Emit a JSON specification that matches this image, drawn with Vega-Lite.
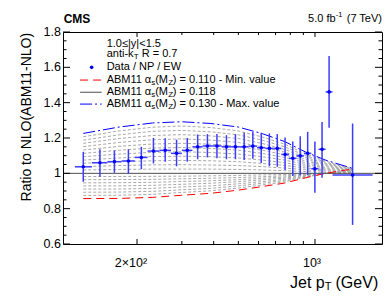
{
"$schema": "https://vega.github.io/schema/vega-lite/v6.json",
"width": 319, "height": 212,
"autosize": "none",
"padding": {"left": 63, "top": 32, "right": 8, "bottom": 58},
"background": "white",
"config": {
  "font": "Liberation Sans",
  "view": {"stroke": "black", "strokeWidth": 1},
  "axis": {"disable": true},
  "text": {"color": "black"}
},
"datasets": {
 "curves": [
  {"pt":123,"a110":0.857,"a111":0.875,"a112":0.893,"a113":0.911,"a114":0.929,"a115":0.946,"a116":0.964,"a117":0.982,"a119":1.019,"a120":1.038,"a121":1.057,"a122":1.075,"a123":1.094,"a124":1.113,"a125":1.132,"a126":1.151,"a127":1.170,"a128":1.188,"a129":1.207,"a130":1.226},
  {"pt":170,"a110":0.858,"a111":0.876,"a112":0.894,"a113":0.911,"a114":0.929,"a115":0.947,"a116":0.965,"a117":0.982,"a119":1.022,"a120":1.044,"a121":1.066,"a122":1.087,"a123":1.109,"a124":1.131,"a125":1.153,"a126":1.175,"a127":1.197,"a128":1.218,"a129":1.240,"a130":1.262},
  {"pt":230,"a110":0.864,"a111":0.881,"a112":0.898,"a113":0.915,"a114":0.932,"a115":0.949,"a116":0.966,"a117":0.983,"a119":1.024,"a120":1.048,"a121":1.071,"a122":1.095,"a123":1.119,"a124":1.143,"a125":1.166,"a126":1.190,"a127":1.214,"a128":1.238,"a129":1.261,"a130":1.285},
  {"pt":300,"a110":0.876,"a111":0.892,"a112":0.907,"a113":0.923,"a114":0.938,"a115":0.954,"a116":0.969,"a117":0.984,"a119":1.024,"a120":1.049,"a121":1.073,"a122":1.097,"a123":1.122,"a124":1.146,"a125":1.170,"a126":1.195,"a127":1.219,"a128":1.243,"a129":1.268,"a130":1.292},
  {"pt":390,"a110":0.887,"a111":0.901,"a112":0.915,"a113":0.929,"a114":0.944,"a115":0.958,"a116":0.972,"a117":0.986,"a119":1.024,"a120":1.047,"a121":1.071,"a122":1.094,"a123":1.118,"a124":1.141,"a125":1.165,"a126":1.188,"a127":1.212,"a128":1.235,"a129":1.259,"a130":1.282},
  {"pt":500,"a110":0.905,"a111":0.917,"a112":0.929,"a113":0.941,"a114":0.953,"a115":0.964,"a116":0.976,"a117":0.988,"a119":1.022,"a120":1.044,"a121":1.066,"a122":1.087,"a123":1.109,"a124":1.131,"a125":1.153,"a126":1.175,"a127":1.197,"a128":1.218,"a129":1.240,"a130":1.262},
  {"pt":620,"a110":0.925,"a111":0.934,"a112":0.944,"a113":0.953,"a114":0.963,"a115":0.972,"a116":0.981,"a117":0.991,"a119":1.019,"a120":1.038,"a121":1.056,"a122":1.075,"a123":1.094,"a124":1.113,"a125":1.131,"a126":1.150,"a127":1.169,"a128":1.188,"a129":1.206,"a130":1.225},
  {"pt":760,"a110":0.945,"a111":0.952,"a112":0.959,"a113":0.966,"a114":0.973,"a115":0.979,"a116":0.986,"a117":0.993,"a119":1.015,"a120":1.030,"a121":1.045,"a122":1.060,"a123":1.075,"a124":1.090,"a125":1.105,"a126":1.120,"a127":1.135,"a128":1.150,"a129":1.165,"a130":1.180},
  {"pt":920,"a110":0.975,"a111":0.978,"a112":0.981,"a113":0.984,"a114":0.988,"a115":0.991,"a116":0.994,"a117":0.997,"a119":1.010,"a120":1.020,"a121":1.030,"a122":1.040,"a123":1.050,"a124":1.060,"a125":1.070,"a126":1.080,"a127":1.090,"a128":1.100,"a129":1.110,"a130":1.120},
  {"pt":1100,"a110":1.0,"a111":1.0,"a112":1.0,"a113":1.0,"a114":1.0,"a115":1.0,"a116":1.0,"a117":1.0,"a119":1.006,"a120":1.013,"a121":1.019,"a122":1.025,"a123":1.031,"a124":1.038,"a125":1.044,"a126":1.050,"a127":1.056,"a128":1.063,"a129":1.069,"a130":1.075},
  {"pt":1405,"a110":1.025,"a111":1.022,"a112":1.019,"a113":1.016,"a114":1.013,"a115":1.009,"a116":1.006,"a117":1.003,"a119":1.002,"a120":1.005,"a121":1.007,"a122":1.009,"a123":1.012,"a124":1.014,"a125":1.016,"a126":1.019,"a127":1.021,"a128":1.023,"a129":1.026,"a130":1.028}
 ],
 "pts": [
  {"pt":123,"lo":114,"hi":133,"r":1.037,"rlo":0.952,"rhi":1.122},
  {"pt":143,"lo":133,"hi":153,"r":1.06,"rlo":0.98,"rhi":1.136},
  {"pt":163,"lo":153,"hi":174,"r":1.066,"rlo":1.003,"rhi":1.129},
  {"pt":185,"lo":174,"hi":196,"r":1.07,"rlo":0.998,"rhi":1.136},
  {"pt":208,"lo":196,"hi":220,"r":1.09,"rlo":1.024,"rhi":1.15},
  {"pt":232,"lo":220,"hi":245,"r":1.126,"rlo":1.056,"rhi":1.2},
  {"pt":258,"lo":245,"hi":272,"r":1.13,"rlo":1.066,"rhi":1.198},
  {"pt":286,"lo":272,"hi":300,"r":1.113,"rlo":1.04,"rhi":1.19},
  {"pt":315,"lo":300,"hi":330,"r":1.13,"rlo":1.066,"rhi":1.2},
  {"pt":346,"lo":330,"hi":362,"r":1.15,"rlo":1.08,"rhi":1.22},
  {"pt":378,"lo":362,"hi":395,"r":1.155,"rlo":1.09,"rhi":1.222},
  {"pt":412,"lo":395,"hi":430,"r":1.155,"rlo":1.085,"rhi":1.222},
  {"pt":449,"lo":430,"hi":468,"r":1.15,"rlo":1.08,"rhi":1.216},
  {"pt":487,"lo":468,"hi":507,"r":1.15,"rlo":1.08,"rhi":1.222},
  {"pt":527,"lo":507,"hi":548,"r":1.15,"rlo":1.075,"rhi":1.23},
  {"pt":570,"lo":548,"hi":592,"r":1.154,"rlo":1.082,"rhi":1.236},
  {"pt":615,"lo":592,"hi":638,"r":1.145,"rlo":1.058,"rhi":1.23},
  {"pt":662,"lo":638,"hi":686,"r":1.141,"rlo":1.041,"rhi":1.226},
  {"pt":711,"lo":686,"hi":737,"r":1.141,"rlo":1.037,"rhi":1.222},
  {"pt":763,"lo":737,"hi":790,"r":1.107,"rlo":1.019,"rhi":1.203},
  {"pt":818,"lo":790,"hi":846,"r":1.085,"rlo":0.985,"rhi":1.18},
  {"pt":875,"lo":846,"hi":905,"r":1.099,"rlo":0.989,"rhi":1.21},
  {"pt":936,"lo":905,"hi":967,"r":1.113,"rlo":0.99,"rhi":1.235},
  {"pt":999,"lo":967,"hi":1032,"r":1.026,"rlo":0.89,"rhi":1.18},
  {"pt":1066,"lo":1032,"hi":1101,"r":1.136,"rlo":0.975,"rhi":1.29},
  {"pt":1136,"lo":1101,"hi":1172,"r":1.461,"rlo":1.258,"rhi":1.664},
  {"pt":1405,"lo":1172,"hi":1684,"r":0.99,"rlo":0.708,"rhi":1.282}
 ],
 "ymaj": [{"v":0.6,"t":"0.6"},{"v":0.8,"t":"0.8"},{"v":1.0,"t":"1"},{"v":1.2,"t":"1.2"},{"v":1.4,"t":"1.4"},{"v":1.6,"t":"1.6"},{"v":1.8,"t":"1.8"}],
 "ymin": [{"v":0.65},{"v":0.7},{"v":0.75},{"v":0.85},{"v":0.9},{"v":0.95},{"v":1.05},{"v":1.1},{"v":1.15},{"v":1.25},{"v":1.3},{"v":1.35},{"v":1.45},{"v":1.5},{"v":1.55},{"v":1.65},{"v":1.7},{"v":1.75}],
 "xmaj": [{"v":200},{"v":1000}],
 "xmin": [{"v":300},{"v":400},{"v":500},{"v":600},{"v":700},{"v":800},{"v":900}]
},
"data": {"values": [{}]},
"layer": [
 {
  "data": {"name": "curves"},
  "transform": [{"fold": ["a111","a112","a113","a114","a115","a116","a117","a119","a120","a121","a122","a123","a124","a125","a126","a127","a128","a129"], "as": ["c","v"]}],
  "mark": {"type": "line", "stroke": "#a8a8a8", "strokeWidth": 1, "strokeDash": [3,2]},
  "encoding": {
    "x": {"field": "pt", "type": "quantitative", "scale": {"type": "log", "domain": [102.4, 1833], "nice": false}, "axis": null},
    "y": {"field": "v", "type": "quantitative", "scale": {"domain": [0.6, 1.8], "nice": false, "zero": false}, "axis": null},
    "detail": {"field": "c"}
  }
 },
 {"mark": {"type": "rule", "stroke": "#4d4d4d", "strokeWidth": 1}, "encoding": {"y": {"datum": 1}}},
 {
  "data": {"name": "curves"},
  "mark": {"type": "line", "stroke": "#ff0000", "strokeWidth": 1, "strokeDash": [8,5]},
  "encoding": {
    "x": {"field": "pt", "type": "quantitative", "axis": null},
    "y": {"field": "a110", "type": "quantitative", "axis": null}
  }
 },
 {
  "data": {"name": "curves"},
  "mark": {"type": "line", "stroke": "#0000ff", "strokeWidth": 1, "strokeDash": [12,3,2,3]},
  "encoding": {
    "x": {"field": "pt", "type": "quantitative", "axis": null},
    "y": {"field": "a130", "type": "quantitative", "axis": null}
  }
 },
 {
  "data": {"name": "pts"},
  "mark": {"type": "rule", "stroke": "#3c3cff", "strokeWidth": 1.5},
  "encoding": {
    "x": {"field": "lo", "type": "quantitative", "axis": null},
    "x2": {"field": "hi"},
    "y": {"field": "r", "type": "quantitative", "axis": null}
  }
 },
 {
  "data": {"name": "pts"},
  "mark": {"type": "rule", "stroke": "#3c3cff", "strokeWidth": 1.5},
  "encoding": {
    "x": {"field": "pt", "type": "quantitative", "axis": null},
    "y": {"field": "rlo", "type": "quantitative", "axis": null},
    "y2": {"field": "rhi"}
  }
 },
 {
  "data": {"name": "pts"},
  "mark": {"type": "point", "shape": "circle", "filled": true, "size": 13, "color": "#0000ff", "opacity": 1},
  "encoding": {
    "x": {"field": "pt", "type": "quantitative", "axis": null},
    "y": {"field": "r", "type": "quantitative", "axis": null}
  }
 },

 {"data": {"name": "ymaj"}, "mark": {"type": "rule", "stroke": "black", "strokeWidth": 1}, "encoding": {"y": {"field": "v", "type": "quantitative", "axis": null}, "x": {"datum": 102.4}, "x2": {"datum": 109.1}}},
 {"data": {"name": "ymaj"}, "mark": {"type": "rule", "stroke": "black", "strokeWidth": 1}, "encoding": {"y": {"field": "v", "type": "quantitative", "axis": null}, "x": {"datum": 1720}, "x2": {"datum": 1833}}},
 {"data": {"name": "ymin"}, "mark": {"type": "rule", "stroke": "black", "strokeWidth": 1}, "encoding": {"y": {"field": "v", "type": "quantitative", "axis": null}, "x": {"datum": 102.4}, "x2": {"datum": 105.7}}},
 {"data": {"name": "ymin"}, "mark": {"type": "rule", "stroke": "black", "strokeWidth": 1}, "encoding": {"y": {"field": "v", "type": "quantitative", "axis": null}, "x": {"datum": 1776}, "x2": {"datum": 1833}}},
 {"data": {"name": "xmaj"}, "mark": {"type": "rule", "stroke": "black", "strokeWidth": 1}, "encoding": {"x": {"field": "v", "type": "quantitative", "axis": null}, "y": {"datum": 0.6}, "y2": {"datum": 0.6283}}},
 {"data": {"name": "xmaj"}, "mark": {"type": "rule", "stroke": "black", "strokeWidth": 1}, "encoding": {"x": {"field": "v", "type": "quantitative", "axis": null}, "y": {"datum": 1.7717}, "y2": {"datum": 1.8}}},
 {"data": {"name": "xmin"}, "mark": {"type": "rule", "stroke": "black", "strokeWidth": 1}, "encoding": {"x": {"field": "v", "type": "quantitative", "axis": null}, "y": {"datum": 0.6}, "y2": {"datum": 0.617}}},
 {"data": {"name": "xmin"}, "mark": {"type": "rule", "stroke": "black", "strokeWidth": 1}, "encoding": {"x": {"field": "v", "type": "quantitative", "axis": null}, "y": {"datum": 1.783}, "y2": {"datum": 1.8}}},

 {"data": {"name": "ymaj"}, "mark": {"type": "text", "align": "right", "baseline": "middle", "fontSize": 12.5, "dx": -2}, "encoding": {"y": {"field": "v", "type": "quantitative", "axis": null}, "x": {"datum": 102.4}, "text": {"field": "t"}}},
 {"mark": {"type": "text", "text": "2×10²", "align": "center", "baseline": "middle", "fontSize": 12.5, "dx": -6}, "encoding": {"x": {"datum": 200}, "y": {"datum": 0.4925}}},
 {"mark": {"type": "text", "text": "10³", "align": "center", "baseline": "middle", "fontSize": 12.5, "dx": -3}, "encoding": {"x": {"datum": 1000}, "y": {"datum": 0.4925}}},
 {"mark": {"type": "text", "text": "Ratio to NLO(ABM11-NLO)", "align": "right", "baseline": "middle", "fontSize": 14, "angle": 270}, "encoding": {"x": {"datum": 73.8}, "y": {"datum": 1.795}}},

 {"mark": {"type": "text", "text": "1.0≤|y|<1.5", "align": "left", "baseline": "middle", "fontSize": 11}, "encoding": {"x": {"datum": 152}, "y": {"datum": 1.733}}},
 {"mark": {"type": "text", "text": "anti-k", "align": "left", "baseline": "middle", "fontSize": 11}, "encoding": {"x": {"datum": 152}, "y": {"datum": 1.673}}},
 {"mark": {"type": "text", "text": "T", "align": "left", "baseline": "middle", "fontSize": 8, "dx": 27, "dy": 3}, "encoding": {"x": {"datum": 152}, "y": {"datum": 1.673}}},
 {"mark": {"type": "text", "text": "R = 0.7", "align": "left", "baseline": "middle", "fontSize": 11, "dx": 35}, "encoding": {"x": {"datum": 152}, "y": {"datum": 1.673}}},
 {"mark": {"type": "point", "shape": "circle", "filled": true, "size": 13, "color": "#0000ff", "opacity": 1}, "encoding": {"x": {"datum": 132.7}, "y": {"datum": 1.6}}},
 {"mark": {"type": "text", "text": "Data / NP / EW", "align": "left", "baseline": "middle", "fontSize": 11}, "encoding": {"x": {"datum": 152}, "y": {"datum": 1.6}}},
 {"mark": {"type": "rule", "stroke": "#ff0000", "strokeWidth": 1, "strokeDash": [8,5]}, "encoding": {"x": {"datum": 119.5}, "x2": {"datum": 145.3}, "y": {"datum": 1.528}}},
 {"mark": {"type": "rule", "stroke": "#4d4d4d", "strokeWidth": 1}, "encoding": {"x": {"datum": 119.5}, "x2": {"datum": 145.3}, "y": {"datum": 1.459}}},
 {"mark": {"type": "rule", "stroke": "#0000ff", "strokeWidth": 1, "strokeDash": [12,3,2,3]}, "encoding": {"x": {"datum": 119.5}, "x2": {"datum": 145.3}, "y": {"datum": 1.392}}},

 {"mark": {"type": "text", "text": "ABM11", "align": "left", "baseline": "middle", "fontSize": 11}, "encoding": {"x": {"datum": 152}, "y": {"datum": 1.528}}},
 {"mark": {"type": "text", "text": "α", "align": "left", "baseline": "middle", "fontSize": 11, "dx": 38}, "encoding": {"x": {"datum": 152}, "y": {"datum": 1.528}}},
 {"mark": {"type": "text", "text": "s", "align": "left", "baseline": "middle", "fontSize": 8, "dx": 44.5, "dy": 3}, "encoding": {"x": {"datum": 152}, "y": {"datum": 1.528}}},
 {"mark": {"type": "text", "text": "(M", "align": "left", "baseline": "middle", "fontSize": 11, "dx": 48.5}, "encoding": {"x": {"datum": 152}, "y": {"datum": 1.528}}},
 {"mark": {"type": "text", "text": "Z", "align": "left", "baseline": "middle", "fontSize": 8, "dx": 61.5, "dy": 3}, "encoding": {"x": {"datum": 152}, "y": {"datum": 1.528}}},
 {"mark": {"type": "text", "text": ") = 0.110 - Min. value", "align": "left", "baseline": "middle", "fontSize": 11, "dx": 66}, "encoding": {"x": {"datum": 152}, "y": {"datum": 1.528}}},

 {"mark": {"type": "text", "text": "ABM11", "align": "left", "baseline": "middle", "fontSize": 11}, "encoding": {"x": {"datum": 152}, "y": {"datum": 1.459}}},
 {"mark": {"type": "text", "text": "α", "align": "left", "baseline": "middle", "fontSize": 11, "dx": 38}, "encoding": {"x": {"datum": 152}, "y": {"datum": 1.459}}},
 {"mark": {"type": "text", "text": "s", "align": "left", "baseline": "middle", "fontSize": 8, "dx": 44.5, "dy": 3}, "encoding": {"x": {"datum": 152}, "y": {"datum": 1.459}}},
 {"mark": {"type": "text", "text": "(M", "align": "left", "baseline": "middle", "fontSize": 11, "dx": 48.5}, "encoding": {"x": {"datum": 152}, "y": {"datum": 1.459}}},
 {"mark": {"type": "text", "text": "Z", "align": "left", "baseline": "middle", "fontSize": 8, "dx": 61.5, "dy": 3}, "encoding": {"x": {"datum": 152}, "y": {"datum": 1.459}}},
 {"mark": {"type": "text", "text": ") = 0.118", "align": "left", "baseline": "middle", "fontSize": 11, "dx": 66}, "encoding": {"x": {"datum": 152}, "y": {"datum": 1.459}}},

 {"mark": {"type": "text", "text": "ABM11", "align": "left", "baseline": "middle", "fontSize": 11}, "encoding": {"x": {"datum": 152}, "y": {"datum": 1.392}}},
 {"mark": {"type": "text", "text": "α", "align": "left", "baseline": "middle", "fontSize": 11, "dx": 38}, "encoding": {"x": {"datum": 152}, "y": {"datum": 1.392}}},
 {"mark": {"type": "text", "text": "s", "align": "left", "baseline": "middle", "fontSize": 8, "dx": 44.5, "dy": 3}, "encoding": {"x": {"datum": 152}, "y": {"datum": 1.392}}},
 {"mark": {"type": "text", "text": "(M", "align": "left", "baseline": "middle", "fontSize": 11, "dx": 48.5}, "encoding": {"x": {"datum": 152}, "y": {"datum": 1.392}}},
 {"mark": {"type": "text", "text": "Z", "align": "left", "baseline": "middle", "fontSize": 8, "dx": 61.5, "dy": 3}, "encoding": {"x": {"datum": 152}, "y": {"datum": 1.392}}},
 {"mark": {"type": "text", "text": ") = 0.130 - Max. value", "align": "left", "baseline": "middle", "fontSize": 11, "dx": 66}, "encoding": {"x": {"datum": 152}, "y": {"datum": 1.392}}},

 {"mark": {"type": "text", "text": "CMS", "align": "left", "baseline": "middle", "fontSize": 12, "fontWeight": "bold"}, "encoding": {"x": {"datum": 103}, "y": {"datum": 1.872}}},
 {"mark": {"type": "text", "text": "(7 TeV)", "align": "right", "baseline": "middle", "fontSize": 11}, "encoding": {"x": {"datum": 1833}, "y": {"datum": 1.872}}},
 {"mark": {"type": "text", "text": "-1", "align": "right", "baseline": "middle", "fontSize": 7.5, "dx": -39.7, "dy": -4}, "encoding": {"x": {"datum": 1833}, "y": {"datum": 1.872}}},
 {"mark": {"type": "text", "text": "5.0 fb", "align": "right", "baseline": "middle", "fontSize": 11, "dx": -46.4}, "encoding": {"x": {"datum": 1833}, "y": {"datum": 1.872}}},

 {"mark": {"type": "text", "text": "Jet p", "align": "left", "baseline": "middle", "fontSize": 16}, "encoding": {"x": {"datum": 798}, "y": {"datum": 0.379}}},
 {"mark": {"type": "text", "text": "T", "align": "left", "baseline": "middle", "fontSize": 11, "dx": 34.7, "dy": 4}, "encoding": {"x": {"datum": 798}, "y": {"datum": 0.379}}},
 {"mark": {"type": "text", "text": "(GeV)", "align": "left", "baseline": "middle", "fontSize": 16, "dx": 45.5}, "encoding": {"x": {"datum": 798}, "y": {"datum": 0.379}}}
]
}
